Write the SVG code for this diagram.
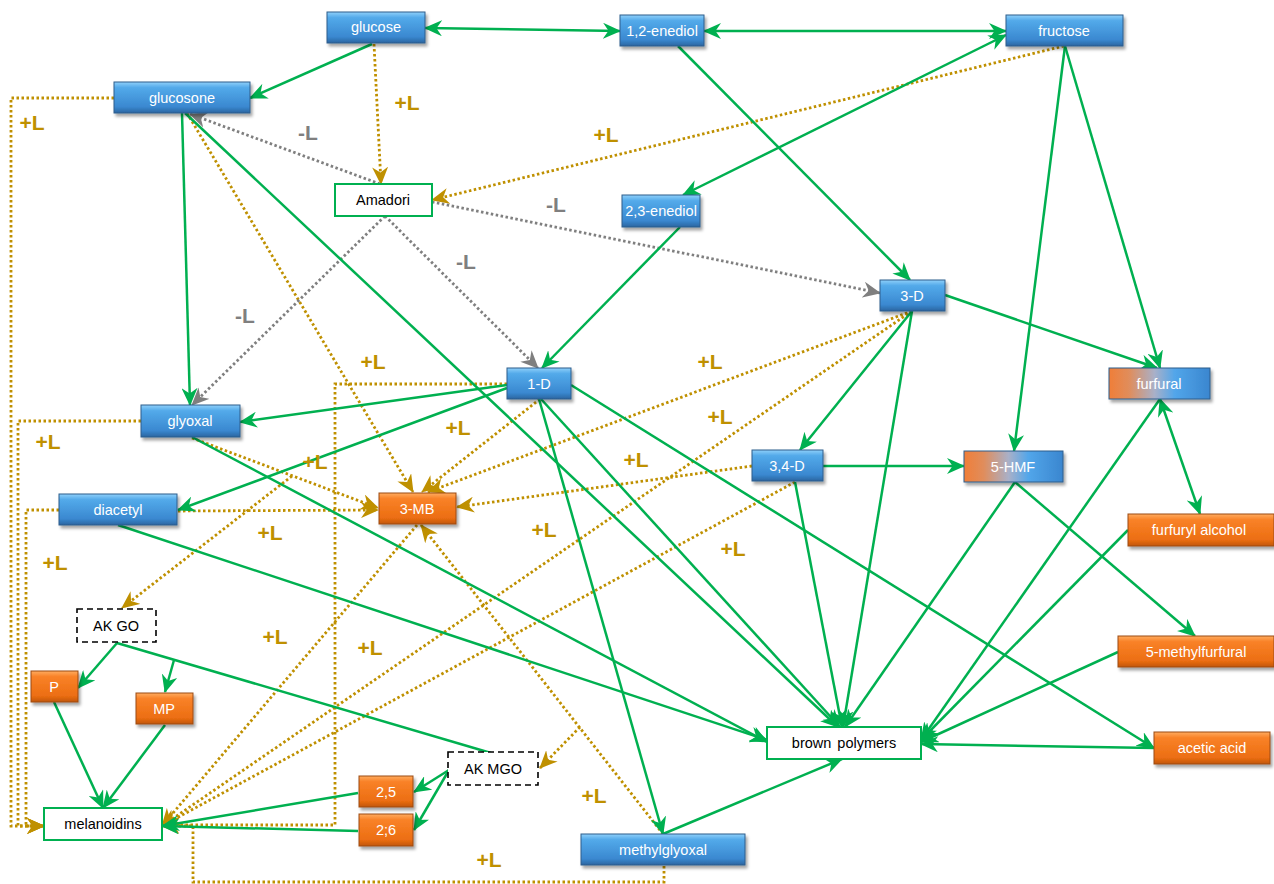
<svg xmlns="http://www.w3.org/2000/svg" width="1274" height="884" viewBox="0 0 1274 884">
<style>
  .g{fill:none;stroke:#00b050;stroke-width:2.5;marker-end:url(#ag)}
  .g2{fill:none;stroke:#00b050;stroke-width:2.5;marker-start:url(#ag);marker-end:url(#ag)}
  .gn{fill:none;stroke:#00b050;stroke-width:2.5}
  .d{fill:none;stroke:#bf9000;stroke-width:2.8;stroke-dasharray:2.5 2.5;marker-end:url(#ad)}
  .gr{fill:none;stroke:#7f7f7f;stroke-width:2.8;stroke-dasharray:2.5 2.5;marker-end:url(#ar)}
  .blue{fill:url(#gb);stroke:#2f5d8c;stroke-width:1}
  .orng{fill:url(#go);stroke:#9c4a12;stroke-width:1}
  .mix{fill:url(#gm);stroke:#2f5d8c;stroke-width:1}
  .wht{fill:#fff;stroke:#00b050;stroke-width:2}
  .dsh{fill:#fff;stroke:#000;stroke-width:1.6;stroke-dasharray:6 4}
  .sh{filter:url(#shadow)}
  text{font-family:"Liberation Sans",Arial,sans-serif;font-size:14.5px;text-anchor:middle}
  .tw{fill:#fff}
  .tb{fill:#000}
  .lp{font-size:21px;font-weight:bold;fill:#bf9000}
  .lm{font-size:21px;font-weight:bold;fill:#7f7f7f}
</style>
<defs>
  <linearGradient id="gb" x1="0" y1="0" x2="0" y2="1">
    <stop offset="0" stop-color="#8fd0fa"/>
    <stop offset="0.18" stop-color="#53aaea"/>
    <stop offset="0.8" stop-color="#3a88d0"/>
    <stop offset="1" stop-color="#2a65a0"/>
  </linearGradient>
  <linearGradient id="go" x1="0" y1="0" x2="0" y2="1">
    <stop offset="0" stop-color="#ffac60"/>
    <stop offset="0.18" stop-color="#f98228"/>
    <stop offset="0.8" stop-color="#ec6e12"/>
    <stop offset="1" stop-color="#c2560c"/>
  </linearGradient>
  <linearGradient id="gm" x1="0" y1="0" x2="1" y2="0">
    <stop offset="0" stop-color="#f07e38"/>
    <stop offset="0.2" stop-color="#e08d5c"/>
    <stop offset="0.45" stop-color="#a9b0c8"/>
    <stop offset="0.65" stop-color="#52a6ea"/>
    <stop offset="1" stop-color="#3a86cf"/>
  </linearGradient>
  <filter id="shadow" x="-10%" y="-20%" width="130%" height="160%">
    <feDropShadow dx="2" dy="3" stdDeviation="1.5" flood-color="#000" flood-opacity="0.35"/>
  </filter>
  <marker id="ag" viewBox="0 0 18 16" refX="17" refY="8" markerWidth="18" markerHeight="16" markerUnits="userSpaceOnUse" orient="auto-start-reverse">
    <path d="M0,0 L18,8 L0,16 L5.5,8 z" fill="#00b050"/>
  </marker>
  <marker id="ad" viewBox="0 0 18 16" refX="17" refY="8" markerWidth="18" markerHeight="16" markerUnits="userSpaceOnUse" orient="auto-start-reverse">
    <path d="M0,0 L18,8 L0,16 L5.5,8 z" fill="#bf9000"/>
  </marker>
  <marker id="ar" viewBox="0 0 18 16" refX="17" refY="8" markerWidth="18" markerHeight="16" markerUnits="userSpaceOnUse" orient="auto-start-reverse">
    <path d="M0,0 L18,8 L0,16 L5.5,8 z" fill="#7f7f7f"/>
  </marker>
</defs>

<g id="connectors">
  <path class="d" d="M374,44 L381,184"/>
  <path class="d" d="M1064,46 L432,200"/>
  <path class="d" d="M114,98 L11,98 L11,826 L44,826"/>
  <path class="d" d="M141,421 L18,421 L18,826 L44,826"/>
  <path class="d" d="M59,510 L26,510 L26,826 L44,826"/>
  <path class="d" d="M507,384 L335,384 L335,825 L162,825"/>
  <path class="d" d="M664,866 L664,882 L193,882 L193,826 L162,826"/>
  <path class="d" d="M187,113 L413,492"/>
  <path class="d" d="M540,399 L422,492"/>
  <path class="d" d="M912,311 L428,492"/>
  <path class="d" d="M192,438 L378,508"/>
  <path class="d" d="M178,511 L378,510"/>
  <path class="d" d="M752,466 L457,507"/>
  <path class="d" d="M663,834 L421,525"/>
  <path class="d" d="M292,476 L122,608"/>
  <path class="d" d="M580,727 L540,768"/>
  <path class="d" d="M417,525 L162,826"/>
  <path class="d" d="M912,311 L162,826"/>
  <path class="d" d="M795,482 L162,826"/>
  <path class="gr" d="M380,184 L190,114"/>
  <path class="gr" d="M432,202 L880,293"/>
  <path class="gr" d="M385,216 L538,368"/>
  <path class="gr" d="M385,216 L192,405"/>
  <path class="g2" d="M425,28 L620,31"/>
  <path class="g2" d="M704,31 L1006,31"/>
  <path class="g" d="M372,44 L250,98"/>
  <path class="g2" d="M1006,35 L683,195"/>
  <path class="g" d="M678,46 L910,280"/>
  <path class="g" d="M1065,46 L1014,451"/>
  <path class="g" d="M1065,46 L1160,368"/>
  <path class="g" d="M680,227 L542,368"/>
  <path class="g" d="M945,295 L1157,368"/>
  <path class="g" d="M912,311 L800,450"/>
  <path class="g" d="M912,311 L843,727"/>
  <path class="g" d="M823,466 L964,466"/>
  <path class="g" d="M795,482 L842,727"/>
  <path class="g" d="M1015,482 L845,727"/>
  <path class="g" d="M1015,482 L1195,636"/>
  <path class="g2" d="M1160,399 L1200,514"/>
  <path class="g" d="M1160,399 L921,740"/>
  <path class="g" d="M1128,530 L921,740"/>
  <path class="g" d="M1118,652 L921,742"/>
  <path class="g" d="M1154,748 L921,744"/>
  <path class="g" d="M571,385 L1154,748"/>
  <path class="g" d="M507,385 L240,422"/>
  <path class="g" d="M507,388 L178,510"/>
  <path class="g" d="M539,399 L663,834"/>
  <path class="g" d="M541,399 L840,727"/>
  <path class="g" d="M185,113 L838,727"/>
  <path class="g" d="M182,113 L190,405"/>
  <path class="g" d="M192,437 L767,742"/>
  <path class="g" d="M118,525 L767,740"/>
  <path class="g" d="M663,834 L842,759"/>
  <path class="g" d="M117,643 L78,688"/>
  <path class="gn" d="M117,643 L491,753"/>
  <path class="g" d="M174,660 L165,692"/>
  <path class="g" d="M54,702 L103,808"/>
  <path class="g" d="M165,725 L103,808"/>
  <path class="g" d="M449,770 L414,792"/>
  <path class="g" d="M449,770 L414,830"/>
  <path class="g" d="M358,793 L162,826"/>
  <path class="g" d="M358,831 L162,826"/>
</g>

<g id="labels">
  <text class="lp" x="407" y="110">+L</text>
  <text class="lm" x="308" y="140">-L</text>
  <text class="lp" x="606" y="142">+L</text>
  <text class="lp" x="32" y="130">+L</text>
  <text class="lm" x="556" y="212">-L</text>
  <text class="lm" x="466" y="269">-L</text>
  <text class="lm" x="245" y="323">-L</text>
  <text class="lp" x="373" y="369">+L</text>
  <text class="lp" x="710" y="369">+L</text>
  <text class="lp" x="48" y="449">+L</text>
  <text class="lp" x="458" y="435">+L</text>
  <text class="lp" x="720" y="424">+L</text>
  <text class="lp" x="315" y="469">+L</text>
  <text class="lp" x="636" y="467">+L</text>
  <text class="lp" x="270" y="540">+L</text>
  <text class="lp" x="544" y="537">+L</text>
  <text class="lp" x="733" y="556">+L</text>
  <text class="lp" x="55" y="570">+L</text>
  <text class="lp" x="275" y="644">+L</text>
  <text class="lp" x="370" y="655">+L</text>
  <text class="lp" x="594" y="803">+L</text>
  <text class="lp" x="489" y="867">+L</text>
</g>

<g id="n-glucose"><rect class="blue sh" x="327" y="12" width="98" height="31"/><text class="tw" x="376" y="32">glucose</text></g>
<g id="n-12enediol"><rect class="blue sh" x="620" y="15" width="84" height="31"/><text class="tw" x="662" y="36">1,2-enediol</text></g>
<g id="n-fructose"><rect class="blue sh" x="1006" y="15" width="117" height="31"/><text class="tw" x="1064" y="36">fructose</text></g>
<g id="n-glucosone"><rect class="blue sh" x="114" y="82" width="136" height="31"/><text class="tw" x="182" y="103">glucosone</text></g>
<g id="n-23enediol"><rect class="blue sh" x="622" y="195" width="78" height="32"/><text class="tw" x="661" y="216">2,3-enediol</text></g>
<g id="n-3D"><rect class="blue sh" x="880" y="280" width="65" height="31"/><text class="tw" x="912" y="301">3-D</text></g>
<g id="n-1D"><rect class="blue sh" x="507" y="368" width="64" height="31"/><text class="tw" x="539" y="389">1-D</text></g>
<g id="n-glyoxal"><rect class="blue sh" x="141" y="405" width="99" height="32"/><text class="tw" x="190" y="426">glyoxal</text></g>
<g id="n-diacetyl"><rect class="blue sh" x="59" y="494" width="118" height="31"/><text class="tw" x="118" y="515">diacetyl</text></g>
<g id="n-34D"><rect class="blue sh" x="752" y="450" width="71" height="31"/><text class="tw" x="787" y="471">3,4-D</text></g>
<g id="n-methylglyoxal"><rect class="blue sh" x="581" y="834" width="164" height="31"/><text class="tw" x="663" y="855">methylglyoxal</text></g>
<g id="n-furfural"><rect class="mix sh" x="1109" y="368" width="101" height="31"/><text class="tw" x="1159" y="389">furfural</text></g>
<g id="n-5HMF"><rect class="mix sh" x="964" y="451" width="99" height="31"/><text class="tw" x="1013" y="472">5-HMF</text></g>
<g id="n-3MB"><rect class="orng sh" x="379" y="493" width="77" height="31"/><text class="tw" x="417" y="514">3-MB</text></g>
<g id="n-furfurylalcohol"><rect class="orng sh" x="1128" y="514" width="146" height="32"/><text class="tw" x="1199" y="535">furfuryl alcohol</text></g>
<g id="n-5methylfurfural"><rect class="orng sh" x="1118" y="636" width="156" height="31"/><text class="tw" x="1196" y="657">5-methylfurfural</text></g>
<g id="n-aceticacid"><rect class="orng sh" x="1154" y="732" width="116" height="32"/><text class="tw" x="1212" y="753">acetic acid</text></g>
<g id="n-P"><rect class="orng sh" x="31" y="671" width="47" height="31"/><text class="tw" x="54" y="692">P</text></g>
<g id="n-MP"><rect class="orng sh" x="136" y="693" width="57" height="31"/><text class="tw" x="164" y="714">MP</text></g>
<g id="n-25"><rect class="orng sh" x="359" y="776" width="54" height="31"/><text class="tw" x="386" y="797">2,5</text></g>
<g id="n-26"><rect class="orng sh" x="359" y="814" width="54" height="32"/><text class="tw" x="386" y="835">2;6</text></g>
<g id="n-amadori"><rect class="wht" x="335" y="184" width="97" height="32"/><text class="tb" x="383" y="205">Amadori</text></g>
<g id="n-melanoidins"><rect class="wht" x="44" y="808" width="118" height="32"/><text class="tb" x="103" y="829">melanoidins</text></g>
<g id="n-brownpolymers"><rect class="wht" x="767" y="727" width="154" height="32"/><text class="tb" x="844" y="748" word-spacing="2">brown polymers</text></g>
<g id="n-akgo"><rect class="dsh" x="77" y="609" width="79" height="33"/><text class="tb" x="116" y="631">AK GO</text></g>
<g id="n-akmgo"><rect class="dsh" x="448" y="752" width="90" height="33"/><text class="tb" x="493" y="774">AK MGO</text></g>
</svg>
